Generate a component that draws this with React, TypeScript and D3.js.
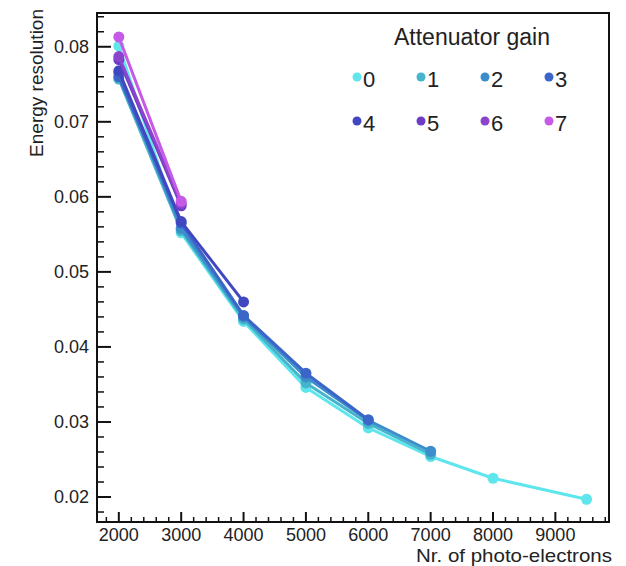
import React from 'react';
import * as d3 from 'd3';

const gains = ['0', '1', '2', '3', '4', '5', '6', '7'];
const colors = ['#5fe6ec', '#46b4cc', '#3c8dcc', '#3b66c8', '#4147c0', '#6a3cc8', '#8c44cc', '#c65ae6'];

const pe0 = [2000, 3000, 4000, 5000, 6000, 7000, 8000, 9500];
const res0 = [0.0801, 0.0552, 0.0434, 0.0346, 0.0292, 0.0254, 0.0225, 0.0197];
const pe1 = [2000, 3000, 4000, 5000, 6000, 7000];
const res1 = [0.0757, 0.0555, 0.0437, 0.0352, 0.0298, 0.0257];
const pe2 = [2000, 3000, 4000, 5000, 6000, 7000];
const res2 = [0.0765, 0.0558, 0.0440, 0.0360, 0.0302, 0.0261];
const pe3 = [2000, 3000, 4000, 5000, 6000];
const res3 = [0.0760, 0.0565, 0.0442, 0.0365, 0.0303];
const pe4 = [2000, 3000, 4000];
const res4 = [0.0768, 0.0567, 0.0460];
const pe5 = [2000, 3000];
const res5 = [0.0783, 0.0588];
const pe6 = [2000, 3000];
const res6 = [0.0787, 0.0591];
const pe7 = [2000, 3000];
const res7 = [0.0813, 0.0594];

const xTicks = [2000, 3000, 4000, 5000, 6000, 7000, 8000, 9000];
const yTicks = [0.02, 0.03, 0.04, 0.05, 0.06, 0.07, 0.08];

const xTitle = 'Nr. of photo-electrons';
const yTitle = 'Energy resolution';
const legendTitle = 'Attenuator gain';

const series = [
  [pe0, res0], [pe1, res1], [pe2, res2], [pe3, res3],
  [pe4, res4], [pe5, res5], [pe6, res6], [pe7, res7],
];

const L = 97, R = 609, T = 13, B = 522;
const font = '"Liberation Sans", Arial, Helvetica, sans-serif';

export default function App() {
  const x = d3.scaleLinear().domain([1650, 9860]).range([L, R]);
  const y = d3.scaleLinear().domain([0.01667, 0.0845]).range([B, T]);
  const line = d3.line<[number, number]>().x(d => x(d[0])).y(d => y(d[1]));

  const xMinor = d3.range(1800, 9860, 200).filter(v => v % 1000 !== 0);
  const yMinor = d3.range(0.018, 0.0845, 0.002).filter(v => Math.abs(Math.round(v * 100) - v * 100) > 1e-6);

  const legCols = [357, 421, 485, 549];
  const legRows = [87, 131];

  return (
    <svg width={626} height={566} style={{ position: 'absolute', left: 0, top: 0, background: '#fff' }} fontFamily={font}>
      <rect x={0} y={0} width={626} height={566} fill="#fff" />
      {series.map(([xs, ys], i) => {
        const pts = xs.map((v, j) => [v, ys[j]] as [number, number]);
        return (
          <g key={i}>
            <path d={line(pts) || ''} fill="none" stroke={colors[i]} strokeWidth={3} strokeLinejoin="round" />
            {pts.map((p, j) => (
              <circle key={j} cx={x(p[0])} cy={y(p[1])} r={5.5} fill={colors[i]} />
            ))}
          </g>
        );
      })}
      {/* frame */}
      <rect x={L} y={T} width={R - L} height={B - T} fill="none" stroke="#111" strokeWidth={2} />
      {/* y ticks */}
      {yTicks.map(v => (
        <g key={v}>
          <line x1={L} x2={L + 14} y1={y(v)} y2={y(v)} stroke="#111" strokeWidth={2} />
          <text x={L - 8} y={y(v) + 6} textAnchor="end" fontSize={18} fill="#222">{v.toFixed(2)}</text>
        </g>
      ))}
      {yMinor.map(v => (
        <line key={v} x1={L} x2={L + 7} y1={y(v)} y2={y(v)} stroke="#111" strokeWidth={1.5} />
      ))}
      {/* x ticks */}
      {xTicks.map(v => (
        <g key={v}>
          <line x1={x(v)} x2={x(v)} y1={B} y2={B - 10} stroke="#111" strokeWidth={2} />
          <text x={x(v)} y={B + 19} textAnchor="middle" fontSize={18} fill="#222">{v}</text>
        </g>
      ))}
      {xMinor.map(v => (
        <line key={v} x1={x(v)} x2={x(v)} y1={B} y2={B - 5} stroke="#111" strokeWidth={1.5} />
      ))}
      <text x={612} y={562} textAnchor="end" fontSize={19} textLength={196} lengthAdjust="spacingAndGlyphs" fill="#222">{xTitle}</text>
      <text transform={`translate(43, 9) rotate(-90)`} textAnchor="end" fontSize={19} fill="#222">{yTitle}</text>
      {/* legend */}
      <text x={472} y={45} textAnchor="middle" fontSize={23} fill="#222">{legendTitle}</text>
      {gains.map((g, i) => {
        const cx = legCols[i % 4];
        const cy = legRows[Math.floor(i / 4)];
        return (
          <g key={g}>
            <circle cx={cx} cy={cy - 10} r={4.5} fill={colors[i]} />
            <text x={cx + 6} y={cy} fontSize={22} fill="#222">{g}</text>
          </g>
        );
      })}
    </svg>
  );
}
